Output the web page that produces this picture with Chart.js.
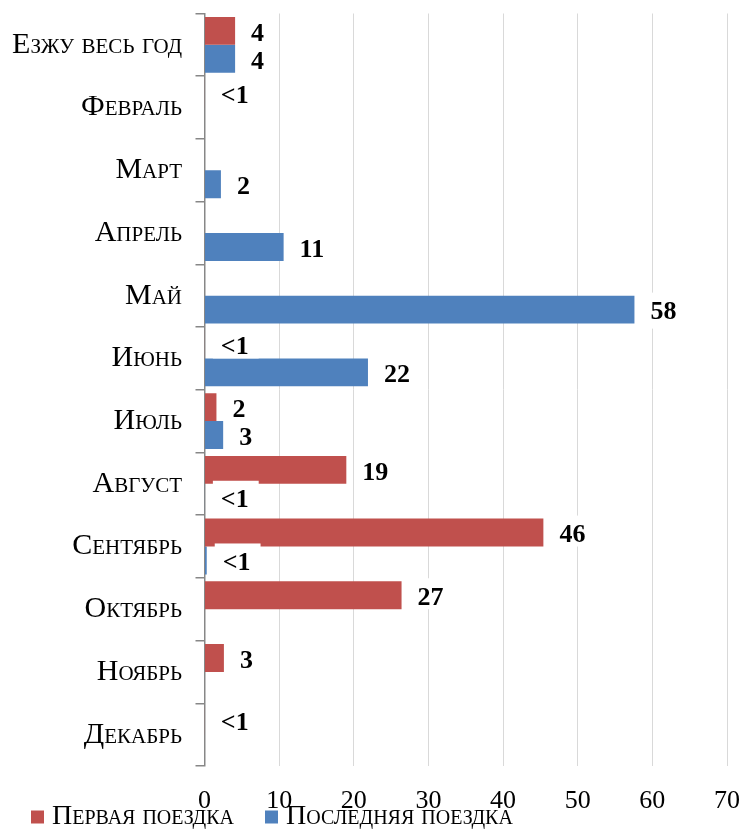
<!DOCTYPE html>
<html><head><meta charset="utf-8">
<script src="https://cdn.jsdelivr.net/npm/chart.js@4.4.1/dist/chart.umd.min.js"></script>
<style>html,body{margin:0;padding:0;background:#fff}#wrap{width:741px;height:829px}</style>
</head><body><div id="wrap"><canvas id="c" width="741" height="829"></canvas></div>
<script>
const categories = ['Езжу весь год','Февраль','Март','Апрель','Май','Июнь','Июль','Август','Сентябрь','Октябрь','Ноябрь','Декабрь'];
const seriesNames = ['Первая поездка','Последняя поездка'];
const firstTrip = [4.1, 0.05, null, null, null, 0.05, 1.6, 19.0, 45.4, 26.4, 2.6, 0.05];
const lastTrip = [4.1, null, 2.2, 10.6, 57.6, 21.9, 2.5, 0.05, 0.3, null, null, null];
const firstTripLabels = ['4','<1','','','','<1','2','19','46','27','3','<1'];
const lastTripLabels = ['4','','2','11','58','22','3','<1','<1','','',''];
const xTicks = [0,10,20,30,40,50,60,70];

const SERIF = '"Liberation Serif", "Times New Roman", serif';

const labelPlugin = {
  id: 'valueLabels',
  afterDatasetsDraw(chart) {
    const ctx = chart.ctx;
    const xs = chart.scales.x;
    const items = [];
    chart.data.datasets.forEach((ds, di) => {
      const meta = chart.getDatasetMeta(di);
      meta.data.forEach((bar, i) => {
        const txt = ds.valueLabels[i];
        if (!txt) return;
        const v = ds.data[i] == null ? 0 : ds.data[i];
        const xEnd = xs.getPixelForValue(v);
        items.push({txt, x: xEnd + 16, y: bar.y, h: bar.height, di});
      });
    });
    ctx.save();
    ctx.font = 'bold 26px ' + SERIF;
    ctx.textBaseline = 'middle';
    ctx.textAlign = 'left';
    ctx.fillStyle = '#ffffff';
    items.forEach(it => {
      const w = ctx.measureText(it.txt).width;
      const top = it.y - 17;
      let bottom = it.y + 19;
      if (it.di === 0) bottom = Math.min(bottom, it.y + it.h / 2);
      ctx.fillRect(it.x - 8, top, w + 18, bottom - top);
    });
    ctx.fillStyle = '#000000';
    items.forEach(it => ctx.fillText(it.txt, it.x, it.y + 3));
    ctx.restore();
  }
};

new Chart(document.getElementById('c'), {
  type: 'bar',
  data: {
    labels: categories,
    datasets: [
      { label: seriesNames[0], data: firstTrip, valueLabels: firstTripLabels, backgroundColor: '#C0504D', borderWidth: 0, categoryPercentage: 0.89, barPercentage: 1.0 },
      { label: seriesNames[1], data: lastTrip, valueLabels: lastTripLabels, backgroundColor: '#4F81BD', borderWidth: 0, categoryPercentage: 0.89, barPercentage: 1.0 }
    ]
  },
  options: {
    indexAxis: 'y',
    responsive: false,
    animation: false,
    devicePixelRatio: 1,
    layout: { padding: { top: 13.5, right: 14, bottom: -12, left: 0 } },
    plugins: {
      tooltip: { enabled: false },
      legend: {
        position: 'bottom',
        align: 'start',
        labels: {
          usePointStyle: true,
          pointStyle: 'rect',
          boxWidth: 1,
          boxHeight: 13,
          padding: 37,
          color: '#000',
          font: { family: SERIF, size: 28, weight: 'small-caps' }
        }
      }
    },
    scales: {
      x: {
        type: 'linear', min: 0, max: 70,
        afterBuildTicks: s => { s.ticks = xTicks.map(v => ({ value: v })); },
        grid: { color: '#d9d9d9', lineWidth: 1, drawTicks: false },
        border: { display: false },
        ticks: { mirror: true, padding: -50, color: '#000', font: { family: SERIF, size: 26, lineHeight: '30px' } },
        afterFit: s => { s.height = 0; }
      },
      y: {
        type: 'category',
        grid: { display: true, drawOnChartArea: false, drawTicks: true, tickLength: 9, color: '#878787', lineWidth: 1.5, offset: true },
        border: { display: true, color: '#878787', width: 1.5 },
        ticks: { padding: 13.5, color: '#000', font: { family: SERIF, size: 30, weight: 'small-caps', lineHeight: 0 } },
        afterFit: s => { s.width = 204.5; }
      }
    }
  },
  plugins: [labelPlugin]
});
</script>
</body></html>
